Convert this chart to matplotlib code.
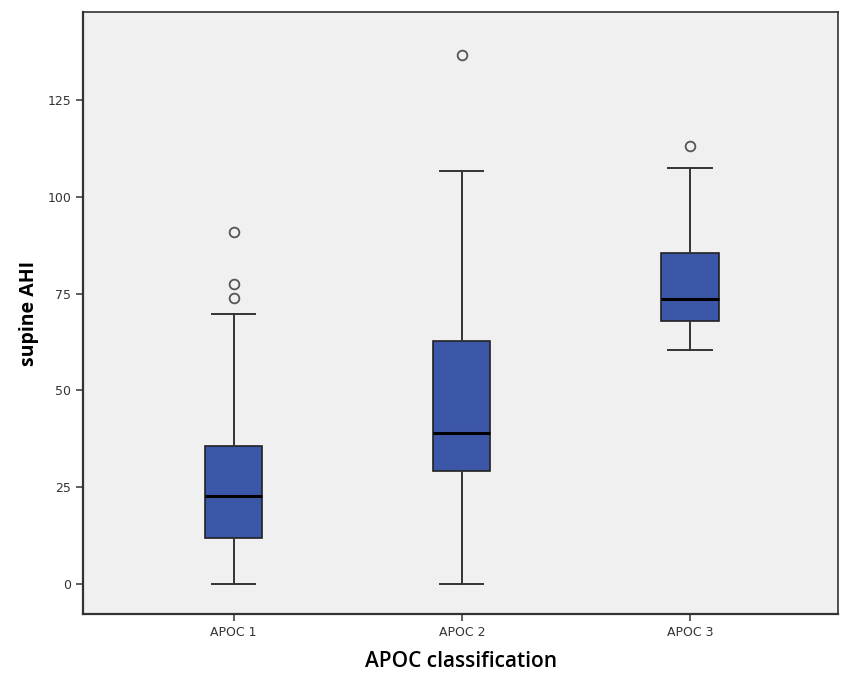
import numpy as np
import matplotlib.pyplot as plt

# values
groups = ['APOC 1', 'APOC 2', 'APOC 3']
whisker_low = [0.0, 0.0, 60.3]
q1 = [11.9, 29.1, 67.9]
median = [22.6, 38.9, 73.7]
q3 = [35.7, 62.7, 85.6]
whisker_high = [69.8, 106.8, 107.4]
outliers = [[73.8, 77.6, 90.9], [136.8], [113.1]]
yticks = [0, 25, 50, 75, 100, 125]

stats = []
for i, name in enumerate(groups):
    stats.append(dict(label=name, whislo=whisker_low[i], q1=q1[i], med=median[i],
                      q3=q3[i], whishi=whisker_high[i], fliers=outliers[i]))

fig = plt.figure(figsize=(8.46, 6.76), dpi=100)
ax = fig.add_axes([0.098, 0.092, 0.893, 0.890])
ax.set_facecolor('#f0f0f0')

ax.bxp(stats, positions=[1, 2, 3], widths=0.25, patch_artist=True,
       boxprops=dict(facecolor='#3d57a8', edgecolor='#222222', linewidth=1.2),
       medianprops=dict(color='black', linewidth=2.2),
       whiskerprops=dict(color='#333333', linewidth=1.4),
       capprops=dict(color='#333333', linewidth=1.4),
       capwidths=0.19,
       flierprops=dict(marker='o', markersize=7, markerfacecolor='none',
                       markeredgecolor='#555555', markeredgewidth=1.3))

ax.set_xlim(0.34, 3.65)
ax.set_ylim(-7.8, 147.8)
ax.set_yticks(yticks)
ax.set_yticklabels([str(v) for v in yticks])
ax.tick_params(axis='both', labelsize=9, labelcolor='#333333', color='#333333',
               length=5, width=1.1)

for side in ['top', 'right']:
    ax.spines[side].set_color('#333333')
    ax.spines[side].set_linewidth(1.2)
for side in ['left', 'bottom']:
    ax.spines[side].set_color('#333333')
    ax.spines[side].set_linewidth(1.6)

ax.set_ylabel('supine AHI', fontsize=14, fontweight='bold', family='Open Sans', labelpad=6)
ax.set_xlabel('APOC classification', fontsize=15, fontweight='semibold', family='Open Sans', labelpad=9)

fig.savefig('out.png', dpi=100, facecolor='white')
